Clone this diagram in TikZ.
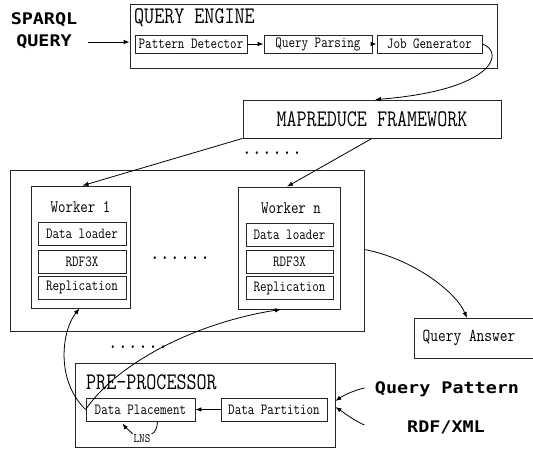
\documentclass[tikz,border=0pt]{standalone}
\usepackage{fontspec}
\usepackage{graphicx}
\usetikzlibrary{arrows.meta,calc}
\newfontfamily\lblfont{DejaVu Sans Mono}
% tall typewriter text used inside the boxes
\newcommand{\tallt}[2]{{\fontsize{#1}{#1}\selectfont\ttfamily\scalebox{1}[1.22]{#2}}}
% bold sans labels for the external inputs
\newcommand{\inlabel}[1]{{\fontsize{16}{16}\selectfont\lblfont\bfseries\scalebox{1.15}[1]{#1}}}

\begin{document}
\begin{tikzpicture}[x=1pt,y=-1pt,
  frame/.style={draw=black!85,line width=0.8pt,inner sep=0pt},
  conn/.style={line width=0.8pt,-{Latex[length=6pt,width=4.5pt]}},
  plain/.style={line width=0.8pt}]
\useasboundingbox (0,0) rectangle (533,448);

% ---------- query engine ----------
\node[frame,minimum width=367,minimum height=64] (qe) at (313.5,36) {};
\node[anchor=west,inner sep=0pt] (qet) at (134,18) {\tallt{19.5}{QUERY ENGINE}};
\node[frame,minimum width=112,minimum height=18] (pd) at (191,44) {\tallt{12.7}{Pattern Detector}};
\node[frame,minimum width=108,minimum height=18] (qp) at (318,44) {\tallt{12.7}{Query Parsing}};
\node[frame,minimum width=105,minimum height=18] (jg) at (429.5,44) {\tallt{12.7}{Job Generator}};
\draw[conn] (pd) -- (qp);
\draw[conn] (qp) -- (jg);

\node (sq1) at (44,20) {\inlabel{SPARQL}};
\node (sq2) at (44,42) {\inlabel{QUERY}};
\coordinate (sqend) at (88,42);
\draw[conn] (sqend) -- (sqend -| qe.west);

% ---------- mapreduce ----------
\node[frame,minimum width=258,minimum height=38] (mr) at (372,119) {\tallt{19.5}{MAPREDUCE FRAMEWORK}};
\draw[conn] (jg.east) .. controls (505,52) and (495,90) .. ($(mr.north)+(3,0)$);
\node (dots1) at (272,153) {\tallt{19.5}{......}};

% ---------- workers ----------
\node[frame,minimum width=354,minimum height=161] (ow) at (187,250.5) {};

\node[frame,minimum width=99,minimum height=122] (w1) at (80.5,247) {};
\node (w1t) at (80.5,207) {\tallt{14.5}{Worker 1}};
\node[frame,minimum width=88,minimum height=23] (dl1) at (82,234) {\tallt{12.7}{Data loader}};
\node[frame,minimum width=88,minimum height=23] (rd1) at (82,261.5) {\tallt{12.7}{RDF3X}};
\node[frame,minimum width=88,minimum height=23] (rp1) at (82,287.5) {\tallt{12.7}{Replication}};

\node (dots2) at (180,258) {\tallt{19.5}{......}};

\node[frame,minimum width=102,minimum height=122] (wn) at (289,248) {};
\node (wnt) at (291,208) {\tallt{14.5}{Worker n}};
\node[frame,minimum width=87,minimum height=23] (dln) at (289.5,235) {\tallt{12.7}{Data loader}};
\node[frame,minimum width=87,minimum height=23] (rdn) at (289.5,262) {\tallt{12.7}{RDF3X}};
\node[frame,minimum width=87,minimum height=23] (rpn) at (289.5,288) {\tallt{12.7}{Replication}};

\draw[conn] (mr.south west) -- ($(w1.north)+(2,0)$);
\draw[conn] (mr.south) -- ($(wn.north)+(-2,0)$);

% ---------- answer ----------
\node[frame,anchor=north west,minimum width=126,minimum height=40] (qa) at (414,318) {};
\node (qat) at (469,338) {\tallt{15}{Query Answer}};
\draw[conn] ($(ow.east)+(0,-1)$) .. controls (410,258) and (455,290) .. ($(qa.north west)+(53,0)$);

% ---------- pre-processor ----------
\node (dots3) at (138,347) {\tallt{19.5}{......}};
\node[frame,minimum width=260,minimum height=84] (pp) at (205,405) {};
\node[anchor=west,inner sep=0pt] (ppt) at (86,382) {\tallt{19.5}{PRE-PROCESSOR}};
\node[frame,minimum width=109,minimum height=23] (dplace) at (140.5,409.5) {\tallt{12.7}{Data Placement}};
\node[frame,minimum width=106,minimum height=23] (dpart) at (274,409.5) {\tallt{12.7}{Data Partition}};
\draw[conn] (dpart) -- (dplace);

\node[inner sep=1pt] (lns) at (142,439) {\tallt{10.5}{LNS}};
\draw[plain] ($(dplace.south)+(17,0)$) .. controls (157,429) and (155,433) .. (lns.north east);
\draw[conn] (lns.north west) .. controls (130,431) and (126,428) .. ($(dplace.south)+(-18,2)$);

\draw[conn] (dplace.west) .. controls (55,380) and (62,330) .. ($(w1.south)+(-1,0)$);
\draw[conn] (dplace.west) .. controls (120,360) and (200,322) .. ($(wn.south)+(-8,0)$);

\node (qpat) at (447,389) {\inlabel{Query Pattern}};
\node (rdf) at (446,427) {\inlabel{RDF/XML}};
\draw[conn] ($(qpat.west)+(-7,-1)$) .. controls (355,390) and (344,395) .. ($(pp.east)+(0,-4)$);
\draw[conn] ($(qpat.west |- rdf.west)+(-7,-2)$) .. controls (353,420) and (343,412) .. ($(pp.east)+(0,2)$);
\end{tikzpicture}
\end{document}
